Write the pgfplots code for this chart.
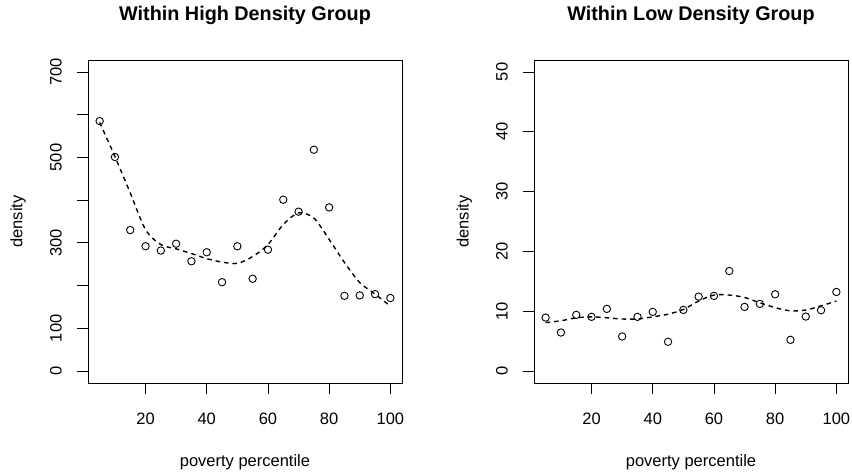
\documentclass[border=0pt]{standalone}
\usepackage{fontspec}
\setmainfont{Liberation Sans}
\usepackage{pgfplots}
\usepackage{pgfplotstable}
\pgfplotsset{compat=1.18}

% observed densities by poverty percentile
\pgfplotstableread{
x y
5 585
10 501
15 330
20 292
25 282
30 298
35 257
40 278
45 208
50 292
55 216
60 284
65 401
70 373
75 518
80 383
85 176
90 177
95 180
100 171
}\highpts

\pgfplotstableread{
x y
5 8.94
10 6.44
15 9.39
20 9.06
25 10.39
30 5.78
35 9.06
40 9.89
45 4.89
50 10.22
55 12.44
60 12.56
65 16.72
70 10.72
75 11.22
80 12.83
85 5.22
90 9.11
95 10.17
100 13.22
}\lowpts

% smoothed trend within each group
\pgfplotstableread{
x y
5 582
10 502
15 417
20 331
25 296
30 286
35 275
40 263
45 255
50 252
55 268
60 296
65 343
70 370
75 358
80 308
85 254
90 207
95 180
100 152
}\highfit

\pgfplotstableread{
x y
5 8.1
10 8.4
15 8.9
20 9.06
25 8.9
30 8.7
35 8.7
40 9.06
45 9.5
50 10.3
55 11.7
60 12.7
65 12.7
70 12.3
75 11.4
80 10.6
85 10.06
90 10.2
95 10.9
100 11.7
}\lowfit

\pgfplotsset{
  rpanel/.style={
    scale only axis, width=314bp, height=323bp,
    anchor=south west,
    xmin=1.2, xmax=103.8,
    axis line style={line width=0.9bp, black},
    tick align=outside, xtick pos=bottom, ytick pos=left,
    major tick length=11bp,
    every tick/.style={line width=0.9bp, black},
    xtick={20,40,60,80,100},
    tick label style={font=\fontsize{16.5bp}{19bp}\selectfont},
    /pgf/number format/assume math mode=true,
    xticklabel style={anchor=north, inner sep=0pt, yshift=-19bp},
    yticklabel style={xshift=-15bp, rotate=90, anchor=south, inner sep=0pt},
    label style={font=\fontsize{16.5bp}{19bp}\selectfont},
    xlabel={poverty percentile},
    ylabel={density},
    xlabel style={at={(axis description cs:0.5,-0.259)}, anchor=base},
    ylabel style={at={(axis description cs:-0.2086,0.5)}, anchor=base},
    % the default title style already lifts the title by 6pt
    title style={at={(axis description cs:0.5,1.1053)}, anchor=base,
      font=\fontsize{19.8bp}{23bp}\selectfont\bfseries},
    scatter/.style={only marks, mark=o, mark size=3.7bp,
      mark options={line width=0.9bp, black}},
    fit/.style={no marks, smooth, tension=0.5, black, line width=1.4bp,
      dash pattern=on 4.5bp off 4bp},
  }
}

\begin{document}
\begin{tikzpicture}
\path[use as bounding box] (0,0) rectangle (852bp,473bp);

\begin{axis}[rpanel, at={(88bp,90bp)},
  title={Within High Density Group},
  ymin=-28, ymax=728,
  ytick={0,100,200,300,400,500,600,700},
  yticklabels={0,100,,300,,500,,700}]
  \addplot[scatter] table {\highpts};
  \addplot[fit] table {\highfit};
\end{axis}

\begin{axis}[rpanel, at={(534bp,90bp)},
  title={Within Low Density Group},
  ymin=-2, ymax=52,
  ytick={0,10,20,30,40,50}]
  \addplot[scatter] table {\lowpts};
  \addplot[fit] table {\lowfit};
\end{axis}
\end{tikzpicture}
\end{document}
